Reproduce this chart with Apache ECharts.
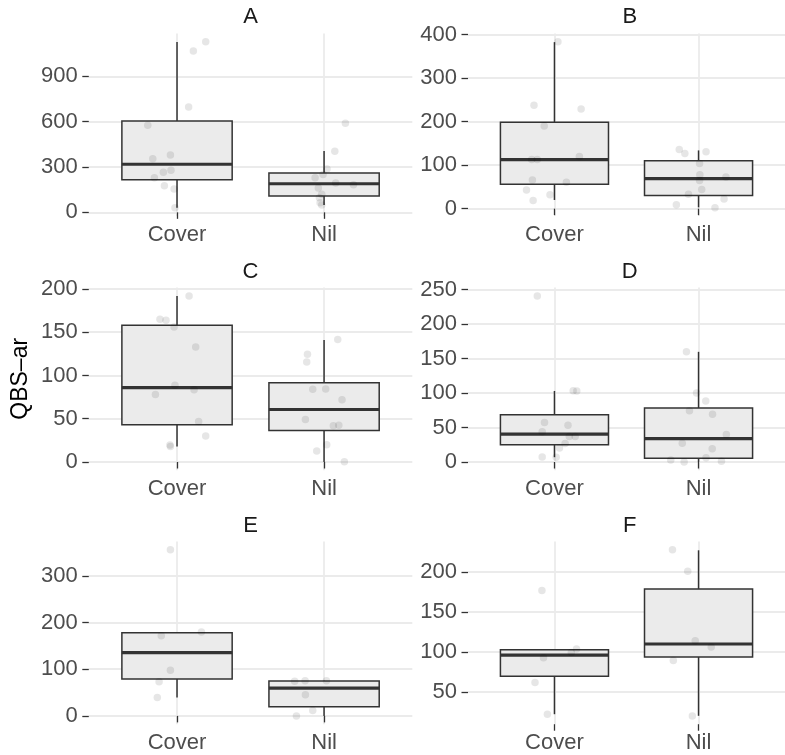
<!DOCTYPE html>
<html><head><meta charset="utf-8">
<script src="https://cdn.jsdelivr.net/npm/echarts@6/dist/echarts.min.js"></script>
<style>html,body{margin:0;padding:0;background:#fff}#c{width:785px;height:755px}</style>
</head><body><div id="c"></div>
<script>
const panelNames = ['A','B','C','D','E','F'];
const categories = ['Cover','Nil'];
const yTitle = 'QBS–ar';

// tick labels per panel
const ticks_A = [0,300,600,900];
const ticks_B = [0,100,200,300,400];
const ticks_C = [0,50,100,150,200];
const ticks_D = [0,50,100,150,200,250];
const ticks_E = [0,100,200,300];
const ticks_F = [50,100,150,200];

// y ranges (ggplot 5% expansion)
const yRange_A = [-25,1184];
const yRange_B = [-17.1,403.1];
const yRange_C = [-9.6,201.6];
const yRange_D = [-12,252.8];
const yRange_E = [-17.8,373.8];
const yRange_F = [9.5,238];

// boxplot stats [min, Q1, median, Q3, max] for Cover, Nil
const box_A = [[30,215,318,604,1127],[48,108,189,260,406]];
const box_B = [[20,56,113,199,383],[3,30,69,110,134]];
const box_C = [[18,43,86,158,192],[0,36.4,60.7,91.7,141]];
const box_D = [[7,25.2,40.3,68.4,103],[0,5.3,34,78.2,159.7]];
const box_E = [[39.5,79,135.6,178,180],[0,19.5,59.6,75,75.4]];
const box_F = [[22,69.6,96,102.7,103.5],[20,93.5,109.8,178.7,227]];

// jittered points: values and horizontal jitter offsets
const coverY_A = [1129,1067,697,576,355,379,265,278,229,176,154,30];
const coverJ_A = [0.195,0.111,0.079,-0.199,-0.165,-0.045,-0.093,-0.041,-0.154,-0.086,-0.020,-0.014];
const nilY_A = [589,404,287,251,229,194,183,161,119,97,64,48];
const nilJ_A = [0.145,0.073,0.020,-0.007,-0.061,0.079,0.200,-0.039,-0.016,-0.032,-0.027,-0.016];

const coverY_B = [384,238,229,190,113,113,120,66,61,43,32,19];
const coverJ_B = [0.024,-0.142,0.185,-0.071,-0.158,-0.119,0.173,-0.153,0.083,-0.194,-0.031,-0.148];
const nilY_B = [136,127,131,104,78,65,73,44,33,22,9,2];
const nilJ_B = [-0.134,-0.095,0.052,0.007,0.009,0.007,0.190,0.022,-0.070,0.177,-0.154,0.114];

const coverY_C = [192,165,164,156,133,88.6,78,83.5,46.8,30,19.7,18];
const coverJ_C = [0.082,-0.116,-0.075,-0.020,0.127,-0.014,-0.147,0.116,0.147,0.195,-0.048,-0.045];
const nilY_C = [141.6,124.6,115.7,84,84.3,72,49,42,42.5,20,12.8,0.4];
const nilJ_C = [0.093,-0.113,-0.118,-0.077,0.011,0.122,-0.127,0.063,0.100,0.018,-0.050,0.138];

const coverY_D = [240.8,103.4,103,57.3,53.4,43.7,36.9,36.9,20.4,26.7,7.3,6.8];
const coverJ_D = [-0.119,0.130,0.155,-0.069,0.094,-0.085,0.103,0.144,0.035,0.074,-0.085,0.012];
const nilY_D = [159.7,100,88.3,74.3,69.4,39.8,27.2,19.4,6.3,2.9,0,1];
const nilJ_D = [-0.084,-0.014,0.050,-0.063,0.097,0.193,-0.113,0.095,0.052,-0.193,-0.100,0.159];

const coverY_E = [356,180,172,97.6,73.2,39.5];
const coverJ_E = [-0.045,0.166,-0.107,-0.045,-0.122,-0.134];
const nilY_E = [74,75.4,75.4,45.2,11.5,0];
const nilJ_E = [-0.200,-0.129,0.016,-0.127,-0.077,-0.188];

const coverY_F = [176.6,103.5,99.3,92.6,61.7,22];
const coverJ_F = [-0.087,0.153,0.117,-0.076,-0.135,-0.049];
const nilY_F = [227.6,200.9,114,106,89.3,19.9];
const nilJ_F = [-0.181,-0.075,-0.023,0.088,-0.175,-0.043];

const panelData = {
  A:{ticks:ticks_A, range:yRange_A, box:box_A, cy:coverY_A, cj:coverJ_A, ny:nilY_A, nj:nilJ_A},
  B:{ticks:ticks_B, range:yRange_B, box:box_B, cy:coverY_B, cj:coverJ_B, ny:nilY_B, nj:nilJ_B},
  C:{ticks:ticks_C, range:yRange_C, box:box_C, cy:coverY_C, cj:coverJ_C, ny:nilY_C, nj:nilJ_C},
  D:{ticks:ticks_D, range:yRange_D, box:box_D, cy:coverY_D, cj:coverJ_D, ny:nilY_D, nj:nilJ_D},
  E:{ticks:ticks_E, range:yRange_E, box:box_E, cy:coverY_E, cj:coverJ_E, ny:nilY_E, nj:nilJ_E},
  F:{ticks:ticks_F, range:yRange_F, box:box_F, cy:coverY_F, cj:coverJ_F, ny:nilY_F, nj:nilJ_F}
};

// layout
const colLeft = [88.8, 468];
const panelW = 323.5;
const rowTop = [33.4, 287.6, 541.5];
const panelH = 182.7;
const FONT = '"Liberation Sans", Arial, Helvetica, sans-serif';
const gridColor = '#ebebeb';

const grids = [], xAxes = [], yAxes = [], series = [], graphics = [];

panelNames.forEach((name, i) => {
  const d = panelData[name];
  const col = i % 2, row = Math.floor(i / 2);
  const left = colLeft[col], top = rowTop[row];
  grids.push({left: left, top: top, width: panelW, height: panelH, containLabel: false});
  xAxes.push({
    gridIndex: i, type: 'value', min: 0.4, max: 2.6,
    axisLine: {show: false},
    axisTick: {show: true, length: 6.5, lineStyle: {color: '#333333', width: 1.3}, customValues: [1, 2]},
    axisLabel: {show: true, customValues: [1, 2], color: '#4d4d4d', fontFamily: FONT, fontSize: 22, margin: 8,
      formatter: v => categories[Math.round(v) - 1]},
    splitLine: {show: true, lineStyle: {color: gridColor, width: 1.8}}
  });
  yAxes.push({
    gridIndex: i, type: 'value', min: d.range[0], max: d.range[1],
    axisLine: {show: false},
    axisTick: {show: true, length: 6.5, lineStyle: {color: '#333333', width: 1.3}, customValues: d.ticks},
    axisLabel: {show: true, customValues: d.ticks, color: '#4d4d4d', fontFamily: FONT, fontSize: 22, margin: 11},
    splitLine: {show: true, lineStyle: {color: gridColor, width: 1.8}}
  });
  series.push({
    type: 'custom', xAxisIndex: i, yAxisIndex: i, z: 2, silent: true,
    data: d.box.map((b, k) => [k + 1].concat(b)),
    renderItem: (params, api) => {
      const x = api.value(0);
      const pMin = api.coord([x, api.value(1)]);
      const pQ1 = api.coord([x, api.value(2)]);
      const pMed = api.coord([x, api.value(3)]);
      const pQ3 = api.coord([x, api.value(4)]);
      const pMax = api.coord([x, api.value(5)]);
      const w = api.size([0.75, 0])[0];
      const st = {stroke: '#333333', lineWidth: 1.5};
      return {type: 'group', children: [
        {type: 'line', shape: {x1: pQ3[0], y1: pQ3[1], x2: pMax[0], y2: pMax[1]}, style: st},
        {type: 'line', shape: {x1: pQ1[0], y1: pQ1[1], x2: pMin[0], y2: pMin[1]}, style: st},
        {type: 'rect', shape: {x: pQ1[0] - w / 2, y: pQ3[1], width: w, height: pQ1[1] - pQ3[1]},
          style: {fill: '#ebebeb', stroke: '#333333', lineWidth: 1.5}},
        {type: 'line', shape: {x1: pMed[0] - w / 2, y1: pMed[1], x2: pMed[0] + w / 2, y2: pMed[1]},
          style: {stroke: '#333333', lineWidth: 3.2}}
      ]};
    }
  });
  const pts = d.cy.map((v, k) => [1 + d.cj[k], v]).concat(d.ny.map((v, k) => [2 + d.nj[k], v]));
  series.push({
    type: 'scatter', xAxisIndex: i, yAxisIndex: i, z: 3, silent: true,
    symbol: 'circle', symbolSize: 7.5,
    itemStyle: {color: 'rgba(0,0,0,0.12)'},
    data: pts
  });
  graphics.push({type: 'text', x: left + panelW / 2, y: top - 16,
    style: {text: name, textAlign: 'center', textVerticalAlign: 'middle', fill: '#1a1a1a', font: '22px ' + FONT}});
});

graphics.push({type: 'text', x: 21, y: (rowTop[0] + rowTop[2] + panelH) / 2, rotation: Math.PI / 2,
  style: {text: yTitle, textAlign: 'center', textVerticalAlign: 'middle', fill: '#000000', font: '23px ' + FONT}});

const chart = echarts.init(document.getElementById('c'), null, {renderer: 'canvas'});
chart.setOption({
  animation: false,
  backgroundColor: '#ffffff',
  grid: grids, xAxis: xAxes, yAxis: yAxes, series: series, graphic: graphics
});
</script></body></html>
